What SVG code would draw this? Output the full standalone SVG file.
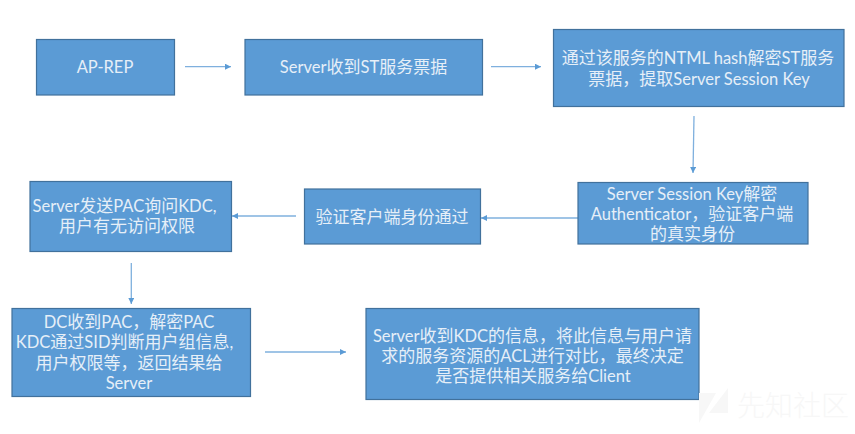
<svg xmlns="http://www.w3.org/2000/svg" width="855" height="434" viewBox="0 0 855 434">
<style>
.box{fill:#5b9bd5;stroke:#41719c;stroke-width:1.2}
.t{font-family:"Lato","Noto Sans CJK SC",sans-serif;font-size:16.500px;fill:#e6eff8;text-anchor:middle}
.z{font-family:"Noto Sans CJK SC",sans-serif;font-size:17px}
.c{fill:none;stroke:#7fb0de;stroke-width:1.3;marker-end:url(#a)}
.wm{font-family:"Noto Sans CJK SC",sans-serif;font-size:28px;font-weight:300;fill:#f7f7f7}
.lg{fill:#f7f7f7}
</style>
<defs><marker id="a" markerUnits="userSpaceOnUse" markerWidth="7" markerHeight="7" refX="6" refY="3" orient="auto"><path d="M0 0L6 3L0 6z" fill="#5b9bd5"/></marker></defs>
<rect width="855" height="434" fill="#fff"/>
<g id="connectors">
<path class="c" d="M185 66.700H231"/>
<path class="c" d="M491 66.700H541"/>
<path class="c" d="M694 116L693 173"/>
<path class="c" d="M578 218H481"/>
<path class="c" d="M296 216H232"/>
<path class="c" d="M131.300 263V304"/>
<path class="c" d="M265 352H346"/>
</g>
<g id="ap-rep"><rect class="box" x="36.500" y="39.500" width="138" height="55.500"/><text class="t" x="105" y="73">AP-REP</text></g>
<g id="server-st"><rect class="box" x="245" y="39.500" width="237.500" height="55.500"/><text class="t" x="363.500" y="73">Server<tspan class="z">收到</tspan>ST<tspan class="z">服务票据</tspan></text></g>
<g id="ntml"><rect class="box" x="553.500" y="29.500" width="290.500" height="77"/><text class="t" x="698" y="64"><tspan class="z">通过该服务的</tspan>NTML hash<tspan class="z">解密</tspan>ST<tspan class="z">服务</tspan></text><text class="t" x="699" y="85"><tspan class="z">票据，提取</tspan>Server Session Key</text></g>
<g id="session-key"><rect class="box" x="578" y="182.500" width="230" height="61.500"/><text class="t" x="692" y="200">Server Session Key<tspan class="z">解密</tspan></text><text class="t" x="692" y="220">Authenticator<tspan class="z">，验证客户端</tspan></text><text class="t" x="692.500" y="240"><tspan class="z">的真实身份</tspan></text></g>
<g id="verify"><rect class="box" x="304.500" y="189" width="176" height="55"/><text class="t" x="392" y="222.500"><tspan class="z">验证客户端身份通过</tspan></text></g>
<g id="send-pac"><rect class="box" x="30" y="181.500" width="201.500" height="70"/><text class="t" x="124.500" y="212">Server<tspan class="z">发送</tspan>PAC<tspan class="z">询问</tspan>KDC,</text><text class="t" x="127" y="232"><tspan class="z">用户有无访问权限</tspan></text></g>
<g id="dc"><rect class="box" x="12" y="308.500" width="238.500" height="88"/><text class="t" x="129" y="328">DC<tspan class="z">收到</tspan>PAC<tspan class="z">，解密</tspan>PAC</text><text class="t" x="124.500" y="348">KDC<tspan class="z">通过</tspan>SID<tspan class="z">判断用户组信息</tspan>,</text><text class="t" x="129" y="369"><tspan class="z">用户权限等，返回结果给</tspan></text><text class="t" x="129" y="389">Server</text></g>
<g id="result"><rect class="box" x="366" y="308.500" width="333" height="91"/><text class="t" x="532.500" y="342">Server<tspan class="z">收到</tspan>KDC<tspan class="z">的信息，将此信息与用户请</tspan></text><text class="t" x="532.500" y="362"><tspan class="z">求的服务资源的</tspan>ACL<tspan class="z">进行对比，最终决定</tspan></text><text class="t" x="533" y="382"><tspan class="z">是否提供相关服务给</tspan>Client</text></g>
<g id="watermark"><path class="lg" d="M699 393H716L699 423z"/><path class="lg" d="M728 388V413H709z"/><text class="wm" x="737" y="416">先知社区</text></g>
</svg>
